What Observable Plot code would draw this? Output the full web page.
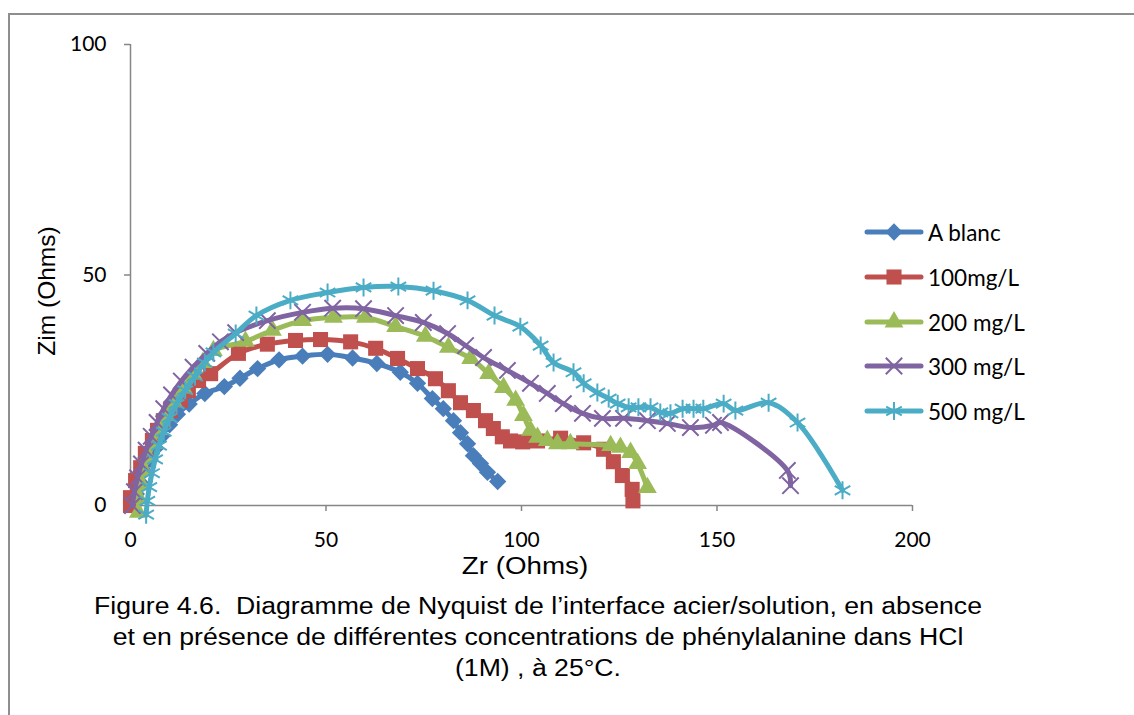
<!DOCTYPE html>
<html><head><meta charset="utf-8">
<script src="https://cdn.jsdelivr.net/npm/d3@7"></script>
<script src="https://cdn.jsdelivr.net/npm/@observablehq/plot@0.6"></script>
<style>
html,body{margin:0;padding:0;background:#fff;}
#page{position:relative;width:1134px;height:715px;overflow:hidden;background:#fff;}
#frame{position:absolute;left:8px;top:13px;width:1200px;height:800px;border-left:2px solid #8e8e8e;border-top:2px solid #8e8e8e;box-sizing:border-box;}
#chart{position:absolute;left:0;top:0;}
.lg{position:absolute;left:864px;height:30px;display:flex;align-items:center;font-family:Lato,sans-serif;font-size:22.5px;color:#000;white-space:nowrap;}
.lg svg{margin-right:4px;}
#ytitle{position:absolute;left:47px;top:291px;transform:translate(-50%,-50%) rotate(-90deg);font-family:"Liberation Sans",Arial,sans-serif;font-size:24.5px;white-space:nowrap;}
#xtitle{position:absolute;left:525px;top:566px;transform:translate(-50%,-50%) scaleX(1.18);font-family:"Liberation Sans",Arial,sans-serif;font-size:23.5px;white-space:nowrap;}
#caption{position:absolute;left:0;width:1076px;top:591px;text-align:center;font-family:"Liberation Sans",Arial,sans-serif;font-size:23.5px;line-height:31px;color:#000;transform:scaleX(1.133);transform-origin:538px 0;}
</style></head>
<body>
<div id="page">
<div id="frame"></div>
<div id="chart"></div>
<div id="ytitle">Zim (Ohms)</div>
<div id="xtitle">Zr (Ohms)</div>
<div id="legend"></div>
<div id="caption">Figure 4.6.&nbsp; Diagramme de Nyquist de l’interface acier/solution, en absence<br>et en présence de différentes concentrations de phénylalanine dans HCl<br>(1M) , à 25°C.</div>
</div>
<script>
// Series names
const seriesNames = ["A blanc", "100mg/L", "200 mg/L", "300 mg/L", "500 mg/L"];
// Axis ticks
const xTicks = [0, 50, 100, 150, 200];
const yTicks = [0, 50, 100];

// [Zr, Zim] pairs
const blanc = [[0.8,0],[1.5,2.5],[2.5,5],[3.5,7.5],[5,10],[6.5,12.5],[8,15],[10,17.5],[12,19.8],[15,22],[19,24.3],[24,25.8],[28,27.6],[32.5,29.7],[38,31.6],[44,32.4],[50.4,32.8],[56.8,32],[63,30.8],[69,28.9],[73.4,26.5],[77.2,23.2],[80,21],[82.6,18.4],[84.4,15.8],[86.2,13.4],[87.7,10.8],[89.5,9.1],[91.3,7.2],[93.9,5.2]];
const c100 = [[0,0],[0,1.7],[1.3,5.4],[2.6,8.2],[3.8,11.3],[5.6,14.1],[6.9,16.3],[8.4,18.4],[10.2,20.6],[12.8,22.8],[14.8,24.9],[17.4,27.1],[20.5,28.6],[27.6,33],[35,35],[42.2,35.8],[48.6,36],[56.3,35.5],[62.7,34.1],[68.3,31.9],[73.4,29.7],[78,27.5],[81.3,24.9],[84.4,22.3],[87.7,20.6],[90.8,18.4],[92.8,16.7],[95.1,14.9],[97.2,14],[100.3,13.8],[104.1,14],[110,14.6],[115.9,13.6],[121,12.2],[123.5,9.5],[125.8,6.5],[128.3,3.5],[128.5,1]];
const c200 = [[2,-1.5],[2.2,1.5],[2.8,4.5],[3.5,7.5],[4.5,10.5],[5.8,13.5],[7.2,16.5],[9,19.5],[11,22.5],[13.5,25.5],[16,28.5],[18.5,31],[21.2,33.6],[29.4,35.6],[36.3,38],[44,40.1],[51.9,40.8],[60.1,40.8],[67.8,38.8],[75.4,36.7],[81.3,34.3],[87,31.9],[91.6,28.6],[95.4,25.6],[98.5,22.8],[100.5,19.5],[102.3,16.3],[104.1,14.8],[106.6,14.1],[109.2,13.4],[112.5,13.4],[122.8,13],[125.3,12.6],[127.9,11.5],[129.7,9.1],[132.2,3.9]];
const c300 = [[0.5,0],[1,3],[1.8,6],[2.8,9],[4,12],[5.3,15],[6.8,18],[8.5,21],[10.5,24],[13,27],[16,30],[19.5,33],[23,35.5],[26.9,37.5],[35,40.1],[44,41.9],[51.7,42.8],[59.6,42.7],[67.8,41.2],[74.9,39.7],[81.1,37.3],[85.7,34.7],[90.3,32.1],[96.4,29.3],[102.3,26.5],[106.6,24.3],[110.7,22.1],[115.6,20],[120.7,18.9],[126.1,18.9],[132.2,18.4],[137.3,17.8],[143.2,16.9],[149.1,17.4],[150.9,18],[168,7.6],[168.8,4.3]];
const c500 = [[4,-2],[4.3,1],[4.8,4],[5.5,7],[6.3,10],[7.3,13],[8.5,16],[10,19],[11.8,22],[14,25],[16.5,28],[19,31],[21.2,33.2],[26.9,37.3],[32.2,41.2],[40.9,44.5],[50.4,46.2],[59.6,47.3],[68.5,47.5],[77.5,46.6],[86.2,44.5],[93.1,41.2],[99.7,38.8],[104.9,34.7],[108.2,31],[113.3,28.9],[115.9,26.5],[119.4,24.5],[122.3,23.2],[124.6,22.1],[127.4,21.3],[129.9,21.3],[133,21.3],[135.5,20.2],[138.1,20],[141.2,21],[144,21],[146.5,21],[151.7,22.1],[154.7,20.6],[163.2,22.3],[170.6,18],[182.1,3.3]];

const seriesData = [blanc, c100, c200, c300, c500];
const styles = [
  {color:"#4A7EBB", symbol:d3.symbolDiamond2, r:7.8, filled:true},
  {color:"#C0504D", symbol:d3.symbolSquare, r:8.5, filled:true},
  {color:"#9BBB59", symbol:d3.symbolTriangle, r:7, filled:true},
  {color:"#8064A2", symbol:d3.symbolTimes, r:7.5, filled:false},
  {color:"#4BACC6", symbol:d3.symbolAsterisk, r:8.5, filled:false}
];

const axisColor = "#868686";
const marks = [
  Plot.ruleY([0], {stroke: axisColor, strokeWidth: 1.5}),
  Plot.ruleX([0], {stroke: axisColor, strokeWidth: 1.5}),
  Plot.axisX({ticks: xTicks, tickSize: 6, tickPadding: 21, label: null, stroke: axisColor, strokeWidth: 1.5, fontSize: 21, fontFamily: "Lato", fill: "#000"}),
  Plot.axisY({ticks: yTicks, tickSize: 6, tickPadding: 18, label: null, stroke: axisColor, strokeWidth: 1.5, fontSize: 21, fontFamily: "Lato", fill: "#000"})
];
seriesData.forEach((data, i) => {
  const s = styles[i];
  marks.push(Plot.line(data, {x: d => d[0], y: d => d[1], stroke: s.color, strokeWidth: 5, curve: "catmull-rom", strokeLinejoin: "round", strokeLinecap: "round"}));
  marks.push(Plot.dot(data, s.filled
    ? {x: d => d[0], y: d => d[1], symbol: s.symbol, r: s.r, fill: s.color, stroke: "none"}
    : {x: d => d[0], y: d => d[1], symbol: s.symbol, r: s.r, fill: "none", stroke: s.color, strokeWidth: 2}));
});

const chart = Plot.plot({
  width: 1134, height: 600,
  marginLeft: 130, marginRight: 222, marginTop: 44, marginBottom: 95,
  style: {background: "transparent", overflow: "visible"},
  x: {domain: [0, 200]},
  y: {domain: [0, 100]},
  marks
});
document.getElementById("chart").appendChild(chart);

// legend
const legendTops = [232, 277, 322, 366, 411];
const legend = document.getElementById("legend");
seriesNames.forEach((name, i) => {
  const s = styles[i];
  const row = document.createElement("div");
  row.className = "lg";
  row.style.top = (legendTops[i] - 15) + "px";
  const svg = d3.create("svg").attr("width", 60).attr("height", 30);
  svg.append("line").attr("x1", 3).attr("x2", 57).attr("y1", 15).attr("y2", 15)
    .attr("stroke", s.color).attr("stroke-width", 5).attr("stroke-linecap", "round");
  const size = s.r * s.r * Math.PI;
  svg.append("path").attr("transform", "translate(30,15)")
    .attr("d", d3.symbol(s.symbol, size)())
    .attr("fill", s.filled ? s.color : "none")
    .attr("stroke", s.filled ? "none" : s.color)
    .attr("stroke-width", 2);
  row.appendChild(svg.node());
  const t = document.createElement("span");
  t.textContent = name;
  row.appendChild(t);
  legend.appendChild(row);
});
</script>
</body></html>
